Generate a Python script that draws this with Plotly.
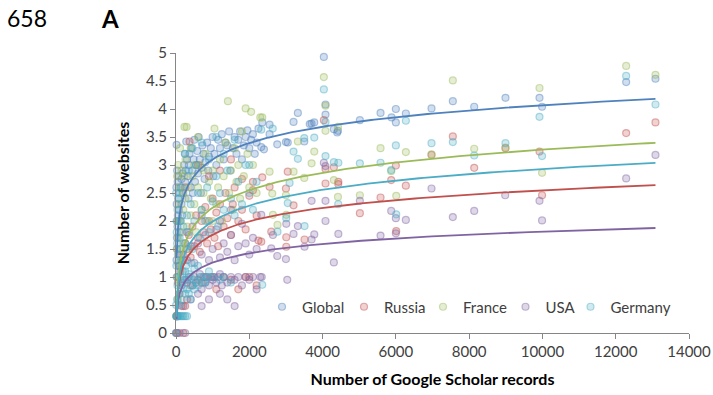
import numpy as np
import plotly.graph_objects as go

# ---------------- data ----------------
series_names = ["Global", "Russia", "France", "USA", "Germany"]
series_colors = ["#4F81BD", "#C0504D", "#9BBB59", "#8064A2", "#4BACC6"]

global_pts = [
    (10, 0.3), (20, 1.0), (15, 1.3), (30, 1.5), (25, 1.7), (40, 1.9), (35, 2.0), (50, 2.1), (20, 2.3), (60, 2.4),
    (10, 2.6), (45, 2.7), (30, 2.9), (15, 3.36), (80, 2.2), (100, 2.5), (120, 2.6), (150, 2.3), (150, 2.75),
    (180, 2.85), (200, 2.5), (220, 3.0), (250, 2.7), (260, 2.9), (280, 3.42), (300, 3.1), (90, 1.8), (130, 2.0),
    (170, 2.1), (60, 2.8), (240, 3.2), (320, 2.8), (350, 3.0), (370, 3.2), (400, 2.6), (420, 3.3), (450, 2.9),
    (480, 3.1), (500, 3.45), (520, 2.7), (550, 3.0), (580, 3.25), (600, 2.85), (620, 3.5), (650, 3.1), (700, 2.95),
    (720, 3.35), (750, 3.2), (780, 2.75), (800, 3.05), (340, 2.4), (460, 2.5), (680, 2.5), (850, 3.4), (880, 2.9),
    (900, 3.15), (950, 3.3), (1000, 3.5), (1020, 2.8), (1050, 3.2), (1100, 3.0), (1150, 3.45), (1200, 3.3),
    (1250, 3.55), (1300, 3.1), (1350, 3.4), (1400, 3.35), (1450, 3.6), (1480, 2.9), (1550, 3.3), (1600, 3.5),
    (1650, 3.2), (1700, 3.45), (1750, 3.6), (1800, 3.1), (1850, 3.35), (1900, 3.5), (1950, 3.62), (2000, 3.3),
    (2050, 3.45), (2100, 3.55), (2150, 3.2), (2200, 3.4), (2250, 3.65),
    (2354, 3.76), (2554, 3.72), (2554, 3.55), (2327, 3.32), (2400, 3.28), (2763, 3.37), (3000, 3.41), (3050, 3.40),
    (3208, 3.77), (3326, 3.93), (3500, 3.42), (3700, 3.74), (3773, 3.76), (3650, 3.73), (4035, 4.93), (4080, 4.08),
    (4080, 3.90), (4308, 3.64), (4420, 3.61), (4400, 3.58), (5018, 3.80), (5582, 3.93), (5882, 3.85), (6000, 4.00),
    (6000, 3.76), (6273, 3.92), (6973, 4.01), (7555, 4.14), (8138, 4.04), (8992, 4.20), (9920, 4.20), (9990, 4.04),
    (12285, 4.48), (13085, 4.54),
]

russia_pts = [
    (5, 0.0), (40, 0.0), (200, 0.0), (20, 0.3), (150, 0.48), (250, 0.48), (300, 0.6), (100, 0.7), (400, 0.85),
    (600, 0.95), (700, 0.9), (800, 1.0), (1000, 1.0), (1100, 0.78), (1300, 1.0), (1500, 0.95), (1700, 0.78),
    (1900, 1.0), (2000, 1.0), (2200, 0.85), (50, 0.9), (80, 1.2), (120, 1.1), (150, 1.4), (200, 1.3), (250, 1.6),
    (300, 1.5), (350, 1.75), (400, 1.35), (450, 1.9), (500, 1.55), (550, 2.1), (600, 1.7), (650, 1.45), (700, 2.0),
    (750, 1.8), (800, 2.25), (850, 1.6), (900, 2.0), (950, 1.85), (1000, 2.4), (1050, 1.7), (1100, 2.15),
    (1150, 1.55), (1200, 2.3), (1300, 1.9), (1350, 2.5), (1400, 2.05), (1500, 1.75), (1550, 2.3), (1600, 2.6),
    (1700, 2.0), (1800, 2.2), (1900, 1.85), (2000, 2.45), (2100, 2.7), (2200, 2.1), (2250, 1.65), (370, 3.42),
    (600, 3.0), (900, 2.8), (1200, 2.9), (1800, 2.75), (250, 2.6), (1500, 3.1), (2100, 2.55),
    (2354, 2.78), (2554, 2.61), (3000, 2.58), (3050, 2.88), (3208, 2.28), (2600, 1.81), (3009, 1.71), (3508, 1.67),
    (2327, 1.63), (3009, 1.54), (4035, 3.80), (4080, 2.93), (4080, 2.67), (4308, 2.96), (4430, 2.70), (4428, 2.66),
    (5018, 2.14), (5582, 2.42), (5873, 2.73), (6000, 2.99), (6010, 1.82), (6273, 2.63), (6973, 3.18), (7555, 3.51),
    (8138, 2.95), (8992, 3.30), (9920, 3.24), (9990, 2.46), (12285, 3.57), (13085, 3.76),
]

france_pts = [
    (10, 0.3), (50, 0.6), (30, 1.0), (80, 1.3), (100, 1.5), (60, 1.7), (150, 1.8), (120, 2.0), (200, 1.6),
    (200, 2.2), (250, 2.4), (230, 3.68), (290, 3.68), (300, 1.9), (350, 2.6), (400, 2.1), (450, 2.8), (500, 2.3),
    (550, 1.8), (600, 2.6), (650, 3.0), (700, 2.2), (750, 2.5), (800, 3.2), (850, 2.0), (900, 2.7), (950, 2.4),
    (1000, 2.9), (1050, 3.65), (1100, 2.3), (1150, 2.6), (1200, 3.1), (1250, 2.0), (1300, 2.8), (1350, 3.4),
    (1416, 4.14), (1450, 2.5), (1500, 2.9), (1550, 2.2), (1600, 3.3), (1650, 2.7), (1700, 3.0), (1750, 2.4),
    (1800, 3.6), (1850, 2.8), (1900, 4.01), (1950, 3.2), (2000, 2.6), (2050, 3.95), (2100, 3.0), (2200, 2.5),
    (2300, 3.85), (400, 3.3), (600, 3.5), (750, 2.9), (1000, 2.0), (350, 1.5), (150, 2.9), (500, 3.0),
    (20, 1.5), (40, 2.0), (70, 2.3), (90, 2.6), (30, 2.8), (60, 3.0), (110, 3.3), (180, 2.5), (220, 2.8), (260, 3.1),
    (2354, 3.85), (2554, 2.88), (2627, 2.49), (2645, 2.11), (2770, 1.93), (3000, 2.46), (3009, 2.11), (3326, 3.42),
    (3208, 2.88), (3500, 2.77), (3700, 3.03), (3773, 3.24), (4035, 4.57), (4080, 4.06), (4080, 3.61), (4308, 2.73),
    (4420, 3.68), (4420, 2.43), (5018, 2.46), (5582, 3.30), (5873, 2.89), (6010, 2.45), (6273, 3.23), (6973, 3.19),
    (7555, 4.51), (8138, 3.29), (8992, 3.31), (9920, 4.375), (9990, 2.86), (12285, 4.77), (13085, 4.61),
]

usa_pts = [
    (10, 0.0), (100, 0.0), (250, 0.0), (30, 0.3), (200, 0.48), (400, 0.6), (600, 0.7), (700, 0.48), (900, 0.6),
    (1200, 0.7), (1400, 0.6), (1600, 0.48), (150, 0.85), (250, 0.95), (300, 0.9), (350, 1.0), (450, 0.85),
    (500, 1.0), (550, 0.9), (650, 1.05), (700, 0.78), (750, 1.0), (800, 0.9), (850, 1.0), (900, 0.85), (950, 1.0),
    (1000, 0.95), (1050, 1.0), (1100, 0.9), (1150, 1.0), (1200, 1.05), (1250, 0.85), (1300, 1.0), (1400, 0.9),
    (1500, 1.0), (1600, 0.95), (1700, 1.0), (1800, 0.85), (1900, 1.0), (2000, 0.95), (2100, 1.0), (2200, 0.78),
    (2300, 1.0), (100, 1.2), (200, 1.4), (300, 1.3), (400, 1.55), (500, 1.25), (600, 1.6), (700, 1.4), (800, 1.75),
    (900, 1.3), (1000, 1.5), (1100, 1.85), (1200, 1.35), (1300, 1.6), (1400, 1.45), (1500, 1.75), (1600, 1.3),
    (1700, 1.55), (1800, 1.95), (1900, 1.6), (2000, 1.4), (2100, 1.7), (2200, 1.5), (1200, 2.0), (700, 2.1),
    (1500, 2.2), (300, 1.8),
    (2327, 2.11), (2340, 1.0), (2600, 1.51), (2645, 1.75), (2763, 1.375), (3000, 1.32), (3009, 1.95), (3036, 0.95),
    (3208, 1.77), (3326, 1.91), (3508, 1.54), (3700, 1.67), (3773, 1.76), (3700, 2.36), (4035, 3.04), (4080, 2.36),
    (4080, 2.98), (4080, 2.0), (4308, 1.26), (4430, 1.77), (5018, 2.36), (5582, 1.74), (5873, 2.18), (6000, 2.05),
    (6000, 1.78), (6273, 2.02), (6973, 2.58), (7555, 2.07), (8138, 2.18), (8984, 2.46), (9920, 2.36), (9990, 2.01),
    (12285, 2.76), (13085, 3.18),
]

germany_pts = [
    (0, 0.0), (20, 0.3), (60, 0.3), (120, 0.3), (200, 0.3), (300, 0.3), (30, 0.6), (80, 0.7), (150, 0.9),
    (50, 1.0), (200, 0.8), (250, 1.1), (300, 0.95), (350, 0.7), (400, 1.0), (450, 0.85), (500, 1.15), (550, 0.9),
    (600, 1.2), (700, 1.0), (800, 0.9), (900, 1.1), (1000, 1.0), (1200, 0.95), (1300, 1.0), (1500, 0.9),
    (50, 1.4), (100, 1.7), (150, 1.3), (200, 1.9), (250, 1.6), (300, 2.1), (350, 1.8), (400, 2.3), (450, 1.5),
    (500, 2.0), (600, 2.5), (650, 1.7), (700, 2.2), (800, 2.0), (850, 2.6), (900, 1.8), (1000, 2.35), (1100, 2.8),
    (1150, 1.9), (1200, 2.5), (1300, 2.2), (1400, 2.9), (1500, 2.4), (1600, 2.1), (1700, 2.7), (1800, 2.3),
    (1900, 3.0), (2000, 2.5), (2100, 2.2), (2200, 2.7), (150, 2.6), (250, 3.2), (350, 2.9), (450, 3.3), (550, 3.0),
    (700, 3.4), (900, 3.1), (1100, 3.5), (1300, 3.2), (1600, 3.45), (2327, 3.63), (2000, 3.0), (5, 0.5), (10, 1.2),
    (15, 2.0), (5, 2.5),
    (100, 0.5), (150, 0.6), (250, 0.7), (300, 0.78), (400, 0.6), (500, 0.78), (600, 0.85), (120, 1.0), (180, 1.1),
    (220, 0.95), (280, 1.2), (350, 1.05), (420, 1.25), (480, 0.95), (650, 1.0), (750, 0.9), (850, 1.0), (80, 1.1),
    (40, 0.85), (60, 1.25), (30, 1.6), (20, 1.8), (40, 2.2), (70, 2.4), (100, 2.0), (130, 1.5), (10, 0.3),
    (40, 0.3), (80, 0.3), (160, 0.3), (250, 0.3),
    (2354, 0.86), (2640, 3.65), (3009, 2.05), (3050, 2.32), (3100, 2.68), (3208, 3.24), (3326, 3.11), (3508, 1.91),
    (3500, 3.48), (3773, 3.49), (2770, 1.81), (4035, 4.35), (4080, 3.77), (4080, 3.16), (4308, 3.05), (4430, 3.04),
    (4428, 2.30), (5018, 3.03), (5582, 3.04), (5873, 2.91), (6000, 3.35), (6010, 2.12), (6273, 3.79), (6973, 3.39),
    (7555, 3.41), (8138, 3.17), (8992, 3.39), (9920, 3.86), (9990, 3.16), (12285, 4.59), (13085, 4.08),
]

# logarithmic trendline coefficients (y = a*ln(x) + b)
trend_a = [0.42, 0.344, 0.45, 0.24, 0.406]
trend_b = [0.20, -0.62, -0.87, -0.40, -0.81]

x_ticks = [0, 2000, 4000, 6000, 8000, 10000, 12000, 14000]
y_ticks = [0, 0.5, 1, 1.5, 2, 2.5, 3, 3.5, 4, 4.5, 5]

# ---------------- figure ----------------
def rgba(hex_color, a):
    h = hex_color.lstrip("#")
    r, g, b = int(h[0:2], 16), int(h[2:4], 16), int(h[4:6], 16)
    return f"rgba({r},{g},{b},{a})"

all_pts = [global_pts, russia_pts, france_pts, usa_pts, germany_pts]
FONT = "Lato"
ML, MR, MT, MB = 176, 24, 53, 62
W, H = 713, 395
PW, PH = W - ML - MR, H - MT - MB

fig = go.Figure()
legend_ids = ["legend", "legend2", "legend3", "legend4", "legend5"]

for name, col, pts, lid in zip(series_names, series_colors, all_pts, legend_ids):
    xs = [p[0] for p in pts]
    ys = [p[1] for p in pts]
    fig.add_trace(go.Scatter(
        x=xs, y=ys, mode="markers", name=name, cliponaxis=False, legend=lid,
        marker=dict(size=7, color=rgba(col, 0.26), line=dict(color=rgba(col, 0.45), width=1.2)),
    ))

for name, col, pts, a, b in zip(series_names, series_colors, all_pts, trend_a, trend_b):
    xmax = max(p[0] for p in pts)
    xc = np.geomspace(15, xmax, 400)
    yc = a * np.log(xc) + b
    fig.add_trace(go.Scatter(x=xc, y=yc, mode="lines", showlegend=False, hoverinfo="skip",
                             line=dict(color=col, width=1.8)))

axis_col = "#868686"
fig.update_layout(
    width=W, height=H,
    margin=dict(l=ML, r=MR, t=MT, b=MB, autoexpand=False),
    paper_bgcolor="white", plot_bgcolor="white",
    font=dict(family=FONT, size=15, color="#262626"),
    showlegend=True,
    xaxis=dict(range=[0, 14000], tickvals=x_ticks, ticktext=[str(v) for v in x_ticks], automargin=False,
               showgrid=False, zeroline=False, showline=True, linecolor=axis_col, linewidth=1,
               ticks="outside", ticklen=5, tickcolor=axis_col,
               tickfont=dict(family=FONT, size=15, color="#404040"),
               title=dict(text="<b>Number of Google Scholar records</b>", standoff=14,
                          font=dict(family=FONT, size=16, color="#000000"))),
    yaxis=dict(range=[0, 5], tickvals=y_ticks, ticktext=[f"{v:g}" for v in y_ticks], automargin=False,
               showgrid=False, zeroline=False, showline=True, linecolor=axis_col, linewidth=1,
               ticks="outside", ticklen=5, tickcolor=axis_col,
               tickfont=dict(family=FONT, size=15, color="#404040"),
               title=dict(text="<b>Number of websites</b>", standoff=12,
                          font=dict(family=FONT, size=16, color="#000000"))),
)

# one legend per series, placed where the reference puts each entry (text start pixel)
legend_text_px = [298, 380, 459, 541.5, 606.5]
leg_layout = {}
for lid, tx in zip(legend_ids, legend_text_px):
    leg_layout[lid] = dict(orientation="h", x=(tx - 36 - ML) / PW, y=(333 - 307) / PH,
                           xanchor="left", yanchor="middle", itemwidth=30, itemsizing="trace",
                           bgcolor="rgba(0,0,0,0)",
                           font=dict(family=FONT, size=15, color="#404040"))
fig.update_layout(**leg_layout)

fig.add_annotation(text="658", xref="paper", yref="paper", x=(5 - ML) / PW, y=(333 - 18) / PH,
                   xanchor="left", yanchor="middle", showarrow=False,
                   font=dict(family=FONT, size=23, color="#000000"))
fig.add_annotation(text="<b>A</b>", xref="paper", yref="paper", x=(99 - ML) / PW, y=(333 - 18) / PH,
                   xanchor="left", yanchor="middle", showarrow=False,
                   font=dict(family=FONT, size=24, color="#000000"))

fig.write_html("out.html")
